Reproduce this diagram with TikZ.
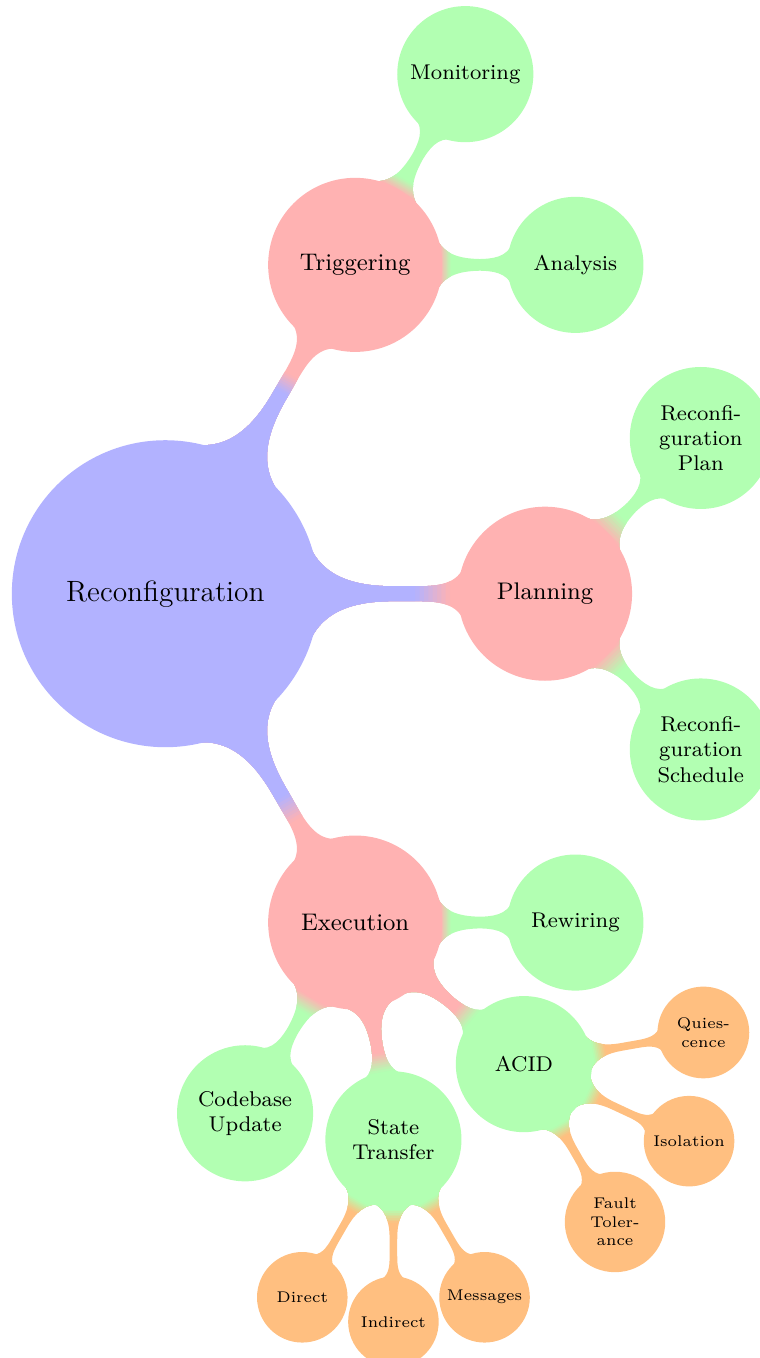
\documentclass[tikz,border=0pt]{standalone}
\usetikzlibrary{mindmap,backgrounds}
\colorlet{cblue}{blue!30}
\colorlet{cred}{red!30}
\colorlet{cgreen}{green!30}
\colorlet{corange}{orange!50}
% A connection bar from #1 to #2 (direction #3) whose colour turns from #4 to #5
% between #6 and #7 cm measured from the centre of #1.
\newcommand\mmlink[7]{%
  \path[concept color=#5, every circle connection bar/.style={fill=#5}] (#1) to[circle connection bar] (#2);
  \foreach \k in {8,7,...,1}{%
    \pgfmathsetmacro\cut{#6+(#7-#6)*\k/8}%
    \pgfmathsetmacro\share{100-(\k-0.5)*100/8}%
    \begin{scope}
      \clip[shift={(#1.center)}, rotate=#3] (-3,-3) rectangle (\cut,3);
      \path[concept color=#4!\share!#5, every circle connection bar/.style={fill=#4!\share!#5}] (#1) to[circle connection bar] (#2);
    \end{scope}
  }%
  \begin{scope}
    \clip[shift={(#1.center)}, rotate=#3] (-3,-3) rectangle (#6,3);
    \path[concept color=#4, every circle connection bar/.style={fill=#4}] (#1) to[circle connection bar] (#2);
  \end{scope}
}
\begin{document}
\begin{tikzpicture}[mindmap,
  rootnode/.style={concept, root concept, concept color=cblue, fill=cblue, font=\fontsize{11}{13.6}\selectfont, align=center},
  mainnode/.style={concept, level 1 concept, concept color=cred, fill=cred, align=center},
  subnode/.style={concept, level 2 concept, concept color=cgreen, fill=cgreen, align=center},
  leafnode/.style={concept, level 3 concept, concept color=corange, fill=corange, align=center,
    font=\fontsize{5.8}{7}\selectfont}]
\useasboundingbox (-2.177,-10.064) rectangle (7.818,7.818);

% concepts
\node[rootnode] (root) at (0,0) {Reconfiguration};
\node[mainnode] (trig) at ([shift={(60:5)}]root.center) {Triggering};
\node[mainnode] (plan) at ([shift={(0:5)}]root.center) {Planning};
\node[mainnode] (exec) at ([shift={(-60:5)}]root.center) {Execution};

\node[subnode] (mon) at ([shift={(60:2.9)}]trig.center) {Monitoring};
\node[subnode] (ana) at ([shift={(0:2.9)}]trig.center) {Analysis};
\node[subnode] (rplan) at ([shift={(45:2.9)}]plan.center) {Reconfi-\\guration\\Plan};
\node[subnode] (rsched) at ([shift={(-45:2.9)}]plan.center) {Reconfi-\\guration\\Schedule};
\node[subnode] (rew) at ([shift={(0:2.9)}]exec.center) {Rewiring};
\node[subnode] (acid) at ([shift={(-40:2.9)}]exec.center) {ACID};
\node[subnode] (st) at ([shift={(-80:2.9)}]exec.center) {State\\Transfer};
\node[subnode] (cb) at ([shift={(-120:2.9)}]exec.center) {Codebase\\Update};

\node[leafnode] (qui) at ([shift={(10:2.4)}]acid.center) {Quies-\\cence};
\node[leafnode] (iso) at ([shift={(-25:2.4)}]acid.center) {Isolation};
\node[leafnode] (ft) at ([shift={(-60:2.4)}]acid.center) {Fault\\Toler-\\ance};
\node[leafnode] (dir) at ([shift={(-120:2.4)}]st.center) {Direct};
\node[leafnode] (ind) at ([shift={(-90:2.4)}]st.center) {Indirect};
\node[leafnode] (msg) at ([shift={(-60:2.4)}]st.center) {Messages};

% connection bars
\begin{pgfonlayer}{background}
  \mmlink{root}{trig}{60}{cblue}{cred}{3.07}{3.32}
  \mmlink{root}{plan}{0}{cblue}{cred}{3.29}{3.75}
  \mmlink{root}{exec}{-60}{cblue}{cred}{3.09}{3.44}
  \mmlink{trig}{mon}{60}{cred}{cgreen}{1.12}{1.30}
  \mmlink{trig}{ana}{0}{cred}{cgreen}{1.12}{1.26}
  \mmlink{plan}{rplan}{45}{cred}{cgreen}{1.12}{1.42}
  \mmlink{plan}{rsched}{-45}{cred}{cgreen}{1.12}{1.42}
  \mmlink{exec}{rew}{0}{cred}{cgreen}{1.12}{1.26}
  \mmlink{exec}{acid}{-40}{cred}{cgreen}{1.75}{2.0}
  \mmlink{exec}{st}{-80}{cred}{cgreen}{1.75}{2.0}
  \mmlink{exec}{cb}{-120}{cred}{cgreen}{1.14}{1.36}
  \mmlink{acid}{qui}{10}{cgreen}{corange}{0.92}{1.09}
  \mmlink{acid}{iso}{-25}{cgreen}{corange}{0.92}{1.09}
  \mmlink{acid}{ft}{-60}{cgreen}{corange}{0.92}{1.09}
  \mmlink{st}{dir}{-120}{cgreen}{corange}{0.92}{1.09}
  \mmlink{st}{ind}{-90}{cgreen}{corange}{0.92}{1.09}
  \mmlink{st}{msg}{-60}{cgreen}{corange}{0.92}{1.09}
\end{pgfonlayer}
\end{tikzpicture}
\end{document}
